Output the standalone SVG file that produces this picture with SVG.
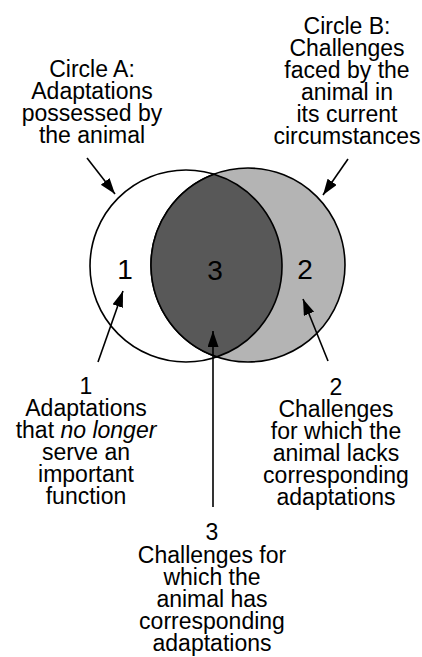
<svg xmlns="http://www.w3.org/2000/svg" width="422" height="657" viewBox="0 0 422 657">
<defs>
<style>
.t{font-family:"Liberation Sans",Arial,Helvetica,sans-serif;font-size:23px;fill:#000;text-anchor:middle}
.n{font-family:"Liberation Sans",Arial,Helvetica,sans-serif;font-size:28px;fill:#000;text-anchor:middle}
.c{stroke:#000;stroke-width:1.6}
.a{stroke:#000;stroke-width:1.6;fill:none;marker-end:url(#ah)}
</style>
<marker id="ah" markerUnits="userSpaceOnUse" markerWidth="17" markerHeight="12" refX="16" refY="5.5" orient="auto">
<path d="M0,0 L16,5.5 L0,11 z" fill="#000"/>
</marker>
</defs>
<rect width="422" height="657" fill="#fff"/>
<g id="circleA">
<circle class="c" cx="186" cy="266" r="96" fill="#fff"/>
</g>
<g id="circleB">
<circle class="c" cx="248" cy="265" r="97" fill="#b4b4b4" stroke-width="2"/>
</g>
<g id="overlap">
<path class="c" d="M213.98 174.16 A96 96 0 0 1 216.92 356.88 A97 97 0 0 1 213.98 174.16 Z" fill="#585858" stroke-width="2"/>
</g>
<g id="region-numbers">
<text class="n" x="125" y="279">1</text>
<text class="n" x="215" y="280" fill="#444">3</text>
<text class="n" x="305" y="279">2</text>
</g>
<g id="labelA">
<text class="t" x="92" y="77">Circle A:</text>
<text class="t" x="92" y="99">Adaptations</text>
<text class="t" x="92" y="121">possessed by</text>
<text class="t" x="92" y="143">the animal</text>
</g>
<g id="labelB">
<text class="t" x="347" y="34">Circle B:</text>
<text class="t" x="347" y="56">Challenges</text>
<text class="t" x="347" y="78">faced by the</text>
<text class="t" x="347" y="100">animal in</text>
<text class="t" x="347" y="122">its current</text>
<text class="t" x="347" y="144">circumstances</text>
</g>
<g id="label1">
<text class="t" x="86" y="394">1</text>
<text class="t" x="86" y="416">Adaptations</text>
<text class="t" x="86" y="438">that <tspan font-style="italic">no longer</tspan></text>
<text class="t" x="86" y="460">serve an</text>
<text class="t" x="86" y="482">important</text>
<text class="t" x="86" y="504">function</text>
</g>
<g id="label2">
<text class="t" x="336" y="395">2</text>
<text class="t" x="336" y="417">Challenges</text>
<text class="t" x="336" y="439">for which the</text>
<text class="t" x="336" y="461">animal lacks</text>
<text class="t" x="336" y="483">corresponding</text>
<text class="t" x="336" y="505">adaptations</text>
</g>
<g id="label3">
<text class="t" x="212" y="540">3</text>
<text class="t" x="212" y="563">Challenges for</text>
<text class="t" x="212" y="585">which the</text>
<text class="t" x="212" y="607">animal has</text>
<text class="t" x="212" y="629">corresponding</text>
<text class="t" x="212" y="651">adaptations</text>
</g>
<g id="connectors">
<line class="a" x1="87" y1="158" x2="115" y2="194"/>
<line class="a" x1="348" y1="159" x2="323" y2="195"/>
<line class="a" x1="98" y1="362" x2="123" y2="291"/>
<line class="a" x1="328" y1="361" x2="303" y2="299"/>
<line class="a" x1="213" y1="507" x2="213" y2="331"/>
</g>
</svg>
